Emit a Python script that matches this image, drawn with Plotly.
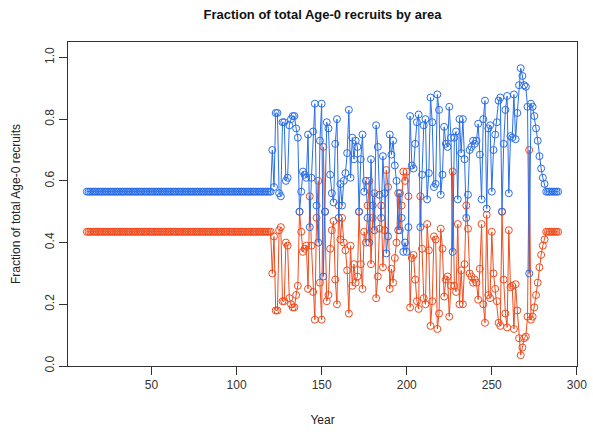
import plotly.graph_objects as go

# Years 12..289
years_const_start = list(range(12, 121))
years_var = list(range(121, 283))
years_const_end = list(range(283, 290))

blue_const = 0.565
red_const = 0.435

blue_var = [
    0.70, 0.58, 0.82, 0.82, 0.56, 0.55, 0.79, 0.79, 0.60, 0.61,
    0.78, 0.80, 0.81, 0.81, 0.77, 0.74, 0.50, 0.565, 0.63, 0.62,
    0.61, 0.75, 0.45, 0.61, 0.76, 0.85, 0.52, 0.40, 0.73, 0.85,
    0.29, 0.50, 0.79, 0.77, 0.62, 0.56, 0.53, 0.72, 0.80, 0.48,
    0.59, 0.52, 0.60, 0.625, 0.69, 0.83, 0.61, 0.74, 0.67, 0.73,
    0.71, 0.50, 0.67, 0.75, 0.565, 0.60, 0.48, 0.40, 0.67, 0.52,
    0.44, 0.78, 0.71, 0.555, 0.48, 0.68, 0.56, 0.365, 0.42, 0.75,
    0.685, 0.73, 0.65, 0.60, 0.44, 0.56, 0.48, 0.37, 0.40, 0.37,
    0.45, 0.81, 0.65, 0.64, 0.72, 0.79, 0.815, 0.45, 0.62, 0.78,
    0.80, 0.54, 0.625, 0.87, 0.79, 0.58, 0.59, 0.88, 0.83, 0.555,
    0.62, 0.775, 0.72, 0.71, 0.84, 0.74, 0.37, 0.74, 0.76, 0.54,
    0.80, 0.69, 0.80, 0.67, 0.48, 0.555, 0.70, 0.71, 0.73, 0.72,
    0.73, 0.785, 0.685, 0.54, 0.80, 0.86, 0.51, 0.77, 0.78, 0.565,
    0.70, 0.75, 0.79, 0.86, 0.87, 0.50, 0.72, 0.83, 0.875, 0.56,
    0.745, 0.74, 0.88, 0.735, 0.82, 0.91, 0.965, 0.94, 0.91, 0.905,
    0.84, 0.30, 0.85, 0.84, 0.81, 0.77, 0.73, 0.68, 0.64, 0.61,
    0.59, 0.565,
]

red_var = [
    0.30, 0.42, 0.18, 0.18, 0.44, 0.45, 0.21, 0.21, 0.40, 0.39,
    0.22, 0.20, 0.19, 0.19, 0.23, 0.26, 0.50, 0.435, 0.37, 0.38,
    0.39, 0.25, 0.55, 0.39, 0.24, 0.15, 0.48, 0.60, 0.27, 0.15,
    0.71, 0.50, 0.21, 0.23, 0.38, 0.44, 0.47, 0.28, 0.20, 0.52,
    0.41, 0.48, 0.40, 0.375, 0.31, 0.17, 0.39, 0.26, 0.33, 0.27,
    0.29, 0.50, 0.33, 0.25, 0.435, 0.40, 0.52, 0.60, 0.33, 0.48,
    0.56, 0.22, 0.29, 0.445, 0.52, 0.32, 0.44, 0.635, 0.58, 0.25,
    0.315, 0.27, 0.35, 0.40, 0.56, 0.44, 0.52, 0.63, 0.60, 0.63,
    0.55, 0.19, 0.35, 0.36, 0.28, 0.21, 0.185, 0.55, 0.38, 0.22,
    0.20, 0.46, 0.375, 0.13, 0.21, 0.42, 0.41, 0.12, 0.17, 0.445,
    0.38, 0.225, 0.28, 0.29, 0.16, 0.26, 0.63, 0.26, 0.24, 0.46,
    0.20, 0.31, 0.20, 0.33, 0.52, 0.445, 0.30, 0.29, 0.27, 0.28,
    0.27, 0.215, 0.315, 0.46, 0.20, 0.14, 0.49, 0.23, 0.22, 0.435,
    0.30, 0.25, 0.21, 0.14, 0.13, 0.50, 0.28, 0.17, 0.125, 0.44,
    0.255, 0.26, 0.12, 0.265, 0.18, 0.09, 0.035, 0.06, 0.09, 0.095,
    0.16, 0.70, 0.15, 0.16, 0.19, 0.23, 0.27, 0.32, 0.36, 0.39,
    0.41, 0.435,
]

years = years_const_start + years_var + years_const_end
blue = [blue_const] * len(years_const_start) + blue_var + [blue_const] * len(years_const_end)
red = [red_const] * len(years_const_start) + red_var + [red_const] * len(years_const_end)

x_ticks = [50, 100, 150, 200, 250, 300]
y_ticks = [0.0, 0.2, 0.4, 0.6, 0.8, 1.0]

BLUE = "#2A6FE8"
RED = "#F04C1E"
FONT = "Liberation Sans, Arial, sans-serif"

fig = go.Figure()
fig.add_trace(go.Scatter(
    x=years, y=red, mode="lines+markers",
    line=dict(color=RED, width=1),
    marker=dict(symbol="circle-open", size=7, color=RED, line=dict(width=1, color=RED)),
    showlegend=False,
))
fig.add_trace(go.Scatter(
    x=years, y=blue, mode="lines+markers",
    line=dict(color=BLUE, width=1),
    marker=dict(symbol="circle-open", size=7, color=BLUE, line=dict(width=1, color=BLUE)),
    showlegend=False,
))

fig.update_layout(
    width=593, height=432,
    margin=dict(l=68, r=16, t=42, b=66),
    paper_bgcolor="white", plot_bgcolor="white",
    font=dict(family=FONT, size=12, color="#222222"),
    title=dict(text="<b>Fraction of total Age-0 recruits by area</b>",
               x=(68 + 577) / 2 / 593, xanchor="center", y=1 - 14 / 432, yanchor="middle",
               font=dict(size=13, color="#111111")),
)
fig.update_xaxes(
    range=[0.92, 300.08], tickvals=x_ticks, ticktext=[str(v) for v in x_ticks],
    showgrid=False, zeroline=False, showline=True, mirror=True, linecolor="#333333", linewidth=1,
    ticks="outside", ticklen=8, tickcolor="#333333", tickfont=dict(size=12, color="#333333"),
    automargin=False,
    title=dict(text="Year", standoff=24, font=dict(size=12, color="#222222")),
)
fig.update_yaxes(
    range=[0, 1.05], tickvals=y_ticks, ticktext=[f"{v:.1f}" for v in y_ticks], tickangle=-90,
    showgrid=False, zeroline=False, showline=True, mirror=True, linecolor="#333333", linewidth=1,
    ticks="outside", ticklen=8, tickcolor="#333333", tickfont=dict(size=12, color="#333333"),
    automargin=False,
    title=dict(text="Fraction of total Age-0 recruits", standoff=20, font=dict(size=12, color="#222222")),
)

fig.write_html("out.html")
